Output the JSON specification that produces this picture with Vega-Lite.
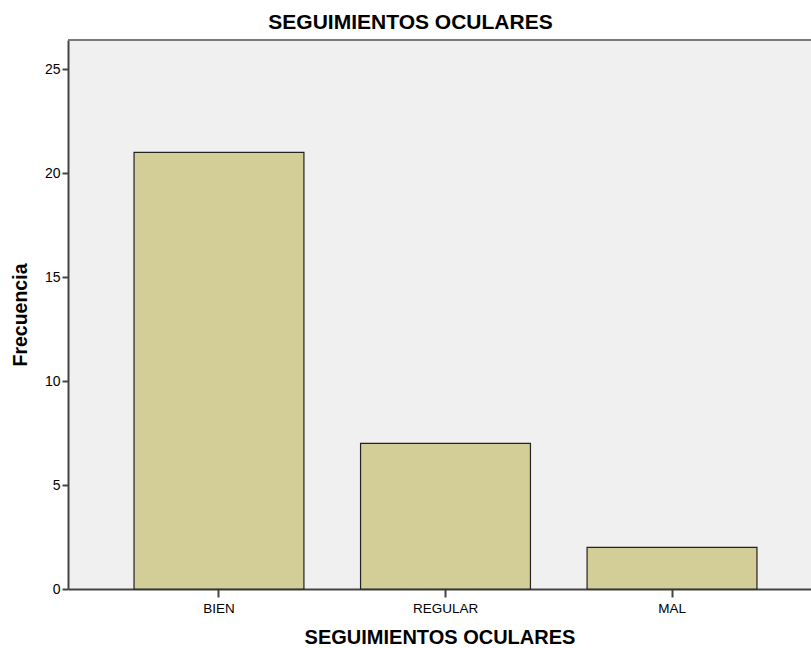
{
  "$schema": "https://vega.github.io/schema/vega-lite/v6.json",
  "width": 743,
  "height": 549,
  "autosize": "none",
  "padding": {"left": 68, "top": 40, "right": 0, "bottom": 59},
  "background": "white",
  "title": {
    "text": "SEGUIMIENTOS OCULARES",
    "font": "Liberation Sans",
    "fontSize": 21,
    "fontWeight": "bold",
    "color": "#000000",
    "anchor": "middle",
    "dx": -29,
    "offset": 6
  },
  "config": {
    "view": {"fill": "#F0F0F0", "stroke": null},
    "axis": {
      "labelFont": "Liberation Sans",
      "titleFont": "Liberation Sans",
      "labelColor": "#000000",
      "titleColor": "#000000",
      "domainColor": "#444444",
      "tickColor": "#444444",
      "domainWidth": 2,
      "tickWidth": 2,
      "grid": false
    }
  },
  "data": {
    "values": [
      {"categoria": "BIEN", "frecuencia": 21},
      {"categoria": "REGULAR", "frecuencia": 7},
      {"categoria": "MAL", "frecuencia": 2}
    ]
  },
  "encoding": {
    "x": {
      "field": "categoria",
      "type": "nominal",
      "sort": null,
      "scale": {"paddingInner": 0.25, "paddingOuter": 0.265, "align": 0.55},
      "axis": {
        "labelAngle": 0,
        "labelFontSize": 13.5,
        "tickSize": 8,
        "labelPadding": 4,
        "title": "SEGUIMIENTOS OCULARES",
        "titleFontSize": 20,
        "titleFontWeight": "bold",
        "titlePadding": 13
      }
    }
  },
  "layer": [
    {
      "mark": {"type": "bar", "fill": "#D3CE97", "stroke": "#222222", "strokeWidth": 1.2},
      "encoding": {
        "y": {
          "field": "frecuencia",
          "type": "quantitative",
          "scale": {"domain": [0, 26.4], "nice": false},
          "axis": {
            "values": [0, 5, 10, 15, 20, 25],
            "labelFontSize": 14,
            "tickSize": 6,
            "labelPadding": 2,
            "title": "Frecuencia",
            "titleFontSize": 19.5,
            "titleFontWeight": "bold",
            "titlePadding": 14
          }
        }
      }
    },
    {
      "mark": {"type": "rule", "color": "#7A7A7A", "strokeWidth": 2},
      "encoding": {
        "x": null,
        "y": {"datum": 26.4, "type": "quantitative"}
      }
    }
  ]
}
